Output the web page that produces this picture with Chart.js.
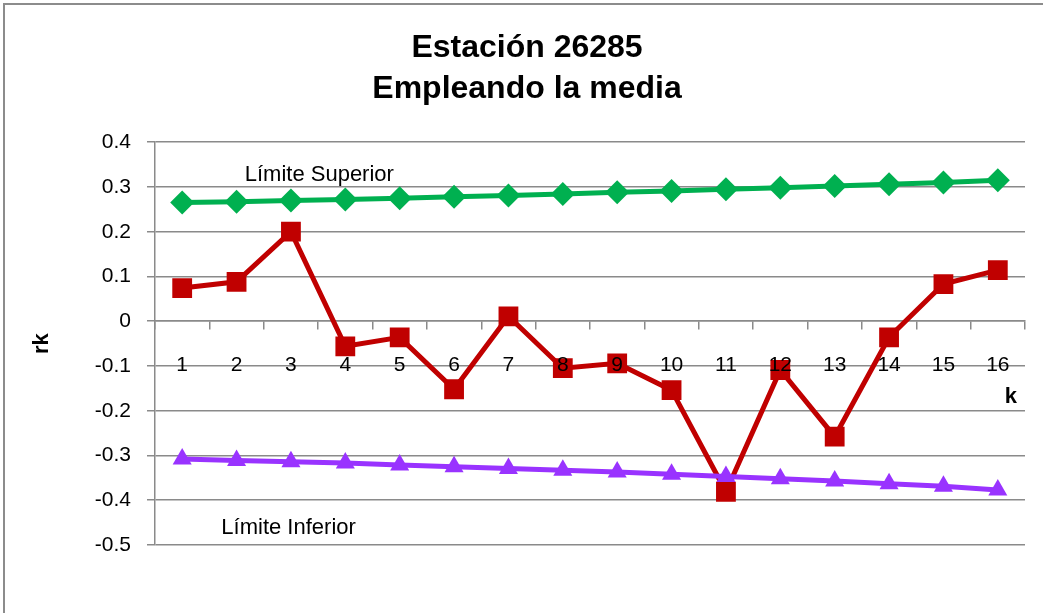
<!DOCTYPE html>
<html>
<head>
<meta charset="utf-8">
<script src="https://cdn.jsdelivr.net/npm/chart.js@4"></script>
<style>
  html, body { margin: 0; padding: 0; background: #fff; }
  #frame { position: absolute; left: 3px; top: 3px; width: 1060px; height: 640px; border: 2px solid #8c8c8c; box-sizing: border-box; }
  #wrap { position: absolute; left: 0; top: 0; width: 1043px; height: 613px; }
</style>
</head>
<body>
<div id="frame"></div>
<div id="wrap"><canvas id="chart"></canvas></div>
<script>
// Datos
const categorias = ['1','2','3','4','5','6','7','8','9','10','11','12','13','14','15','16'];
const rk = [0.074, 0.088, 0.2, -0.056, -0.036, -0.152, 0.011, -0.105, -0.094, -0.154, -0.381, -0.109, -0.258, -0.036, 0.083, 0.114];
const limiteSuperior = [0.265, 0.267, 0.27, 0.272, 0.275, 0.278, 0.281, 0.284, 0.288, 0.291, 0.295, 0.298, 0.302, 0.306, 0.31, 0.315];
const limiteInferior = [-0.308, -0.311, -0.314, -0.317, -0.321, -0.325, -0.329, -0.333, -0.337, -0.342, -0.347, -0.352, -0.357, -0.363, -0.369, -0.377];
const yTicks = [0.4, 0.3, 0.2, 0.1, 0, -0.1, -0.2, -0.3, -0.4, -0.5];

const fuente = '"Liberation Sans Narrow", "Arial Narrow", "Liberation Sans", Arial, sans-serif';
const gris = '#8a8a8a';

// Textos sueltos: etiquetas de límites y nombre del eje k
const etiquetas = {
    id: 'etiquetas',
    afterDraw(chart) {
        const { ctx, scales: { x, y } } = chart;
        ctx.save();
        ctx.fillStyle = '#000';
        ctx.textBaseline = 'middle';
        ctx.textAlign = 'left';
        ctx.font = '22px ' + fuente;
        ctx.fillText('Límite Superior', x.getPixelForValue(1.15), y.getPixelForValue(0.327));
        ctx.fillText('Límite Inferior', x.getPixelForValue(0.72), y.getPixelForValue(-0.461));
        ctx.font = 'bold 22px ' + fuente;
        ctx.textAlign = 'right';
        ctx.fillText('k', chart.chartArea.right - 8, y.getPixelForValue(-0.17));
        ctx.restore();
    }
};

const ctx = document.getElementById('chart').getContext('2d');
new Chart(ctx, {
    type: 'line',
    data: {
        labels: categorias,
        datasets: [
            {
                label: 'Límite Inferior',
                data: limiteInferior,
                borderColor: '#9933FF',
                backgroundColor: '#9933FF',
                borderWidth: 5,
                pointStyle: 'triangle',
                pointRadius: 11,
                pointBorderWidth: 0,
                tension: 0
            },
            {
                label: 'rk',
                data: rk,
                borderColor: '#C00000',
                backgroundColor: '#C00000',
                borderWidth: 5,
                pointStyle: 'rect',
                pointRadius: 14,
                pointBorderWidth: 0,
                tension: 0
            },
            {
                label: 'Límite Superior',
                data: limiteSuperior,
                borderColor: '#00B050',
                backgroundColor: '#00B050',
                borderWidth: 5,
                pointStyle: 'rectRot',
                pointRadius: 12,
                pointBorderWidth: 0,
                tension: 0
            }
        ]
    },
    options: {
        responsive: true,
        maintainAspectRatio: false,
        animation: false,
        layout: { padding: { left: 29, right: 18, bottom: 68, top: 10 } },
        scales: {
            x: {
                position: { y: 0 },
                offset: true,
                grid: { drawOnChartArea: false, drawTicks: true, tickLength: 8, color: gris, lineWidth: 1.5, offset: true },
                border: { color: gris, width: 1.5 },
                ticks: { z: 1, color: '#000', font: { family: fuente, size: 21 }, padding: 23, maxRotation: 0 }
            },
            y: {
                min: -0.5,
                max: 0.4,
                afterBuildTicks: (scale) => { scale.ticks = yTicks.map(v => ({ value: v })); },
                afterFit: (scale) => { scale.width = 126; },
                grid: { color: gris, lineWidth: 1.5, tickLength: 8 },
                border: { color: gris, width: 1.5 },
                ticks: {
                    color: '#000',
                    font: { family: fuente, size: 21 },
                    padding: 16,
                    callback: (v) => String(Math.round(v * 10) / 10)
                },
                title: { display: true, text: 'rk', color: '#000', font: { family: fuente, size: 22, weight: 'bold' }, padding: 0 }
            }
        },
        plugins: {
            legend: { display: false },
            tooltip: { enabled: false },
            title: {
                display: true,
                text: ['Estación 26285', 'Empleando la media'],
                color: '#000',
                font: { family: fuente, size: 32, weight: 'bold', lineHeight: 1.3 },
                padding: { top: 17, bottom: 32 }
            }
        }
    },
    plugins: [etiquetas]
});
</script>
</body>
</html>
